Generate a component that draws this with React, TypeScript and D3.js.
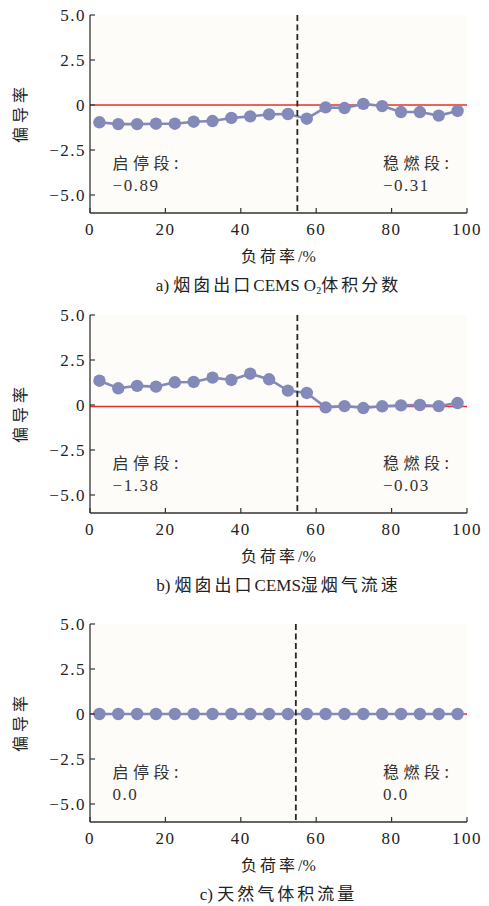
import React from "react";
import * as d3 from "d3";

const loadRate = [2.5, 7.5, 12.5, 17.5, 22.5, 27.5, 32.5, 37.5, 42.5, 47.5, 52.5, 57.5, 62.5, 67.5, 72.5, 77.5, 82.5, 87.5, 92.5, 97.5];
const seriesA = [-0.96, -1.06, -1.06, -1.04, -1.04, -0.93, -0.89, -0.72, -0.63, -0.52, -0.5, -0.76, -0.13, -0.17, 0.06, -0.06, -0.39, -0.39, -0.59, -0.33];
const seriesB = [1.35, 0.93, 1.06, 1.02, 1.26, 1.28, 1.52, 1.39, 1.74, 1.43, 0.8, 0.67, -0.13, -0.06, -0.17, -0.07, -0.02, 0.0, -0.06, 0.11];
const seriesC = [0, 0, 0, 0, 0, 0, 0, 0, 0, 0, 0, 0, 0, 0, 0, 0, 0, 0, 0, 0];
const xTicks = [0, 20, 40, 60, 80, 100];
const yTicks = [5, 2.5, 0, -2.5, -5];
const yTickLabels = ["5.0", "2.5", "0", "\u22122.5", "\u22125.0"];
const dividers = [55, 55, 54.6];
const refLines = [0, -0.08, 0];
const startLabels = ["\u22120.89", "\u22121.38", "0.0"];
const stableLabels = ["\u22120.31", "\u22120.03", "0.0"];
const captionPrefix = ["a) ", "b) ", "c) "];

const SERIF = "'Liberation Serif', 'DejaVu Serif', serif";
const CJK = "'Noto Sans CJK SC', 'Noto Sans', sans-serif";

const W = 489;
const H = 906;
const left = 90;
const right = 467;
const panelTops = [15, 315, 624];
const plotH = 198;

const dotColor = "#8389b9";

function Caption({ i, y }: { i: number; y: number }) {
  const cx = (left + right) / 2;
  const common = { fontSize: 17, fill: "#222" } as any;
  if (i === 0) {
    return (
      <text x={cx} y={y} textAnchor="middle" {...common}>
        <tspan fontFamily={SERIF}>{captionPrefix[0]}</tspan>
        <tspan fontFamily={CJK} letterSpacing={3}>烟囱出口</tspan>
        <tspan fontFamily={SERIF}>CEMS O</tspan>
        <tspan fontFamily={SERIF} fontSize={10} dy={3}>2</tspan>
        <tspan fontFamily={CJK} letterSpacing={3} dy={-3}>体积分数</tspan>
      </text>
    );
  }
  if (i === 1) {
    return (
      <text x={cx} y={y} textAnchor="middle" {...common}>
        <tspan fontFamily={SERIF}>{captionPrefix[1]}</tspan>
        <tspan fontFamily={CJK} letterSpacing={3}>烟囱出口</tspan>
        <tspan fontFamily={SERIF}>CEMS</tspan>
        <tspan fontFamily={CJK} letterSpacing={3}>湿烟气流速</tspan>
      </text>
    );
  }
  return (
    <text x={cx} y={y} textAnchor="middle" {...common}>
      <tspan fontFamily={SERIF}>{captionPrefix[2]}</tspan>
      <tspan fontFamily={CJK} letterSpacing={3}>天然气体积流量</tspan>
    </text>
  );
}

function Panel({ i, data }: { i: number; data: number[] }) {
  const top = panelTops[i];
  const bottom = top + plotH;
  const x = d3.scaleLinear().domain([0, 100]).range([left, right]);
  const y = d3.scaleLinear().domain([-6, 5]).range([bottom, top]);
  const line = d3
    .line<number>()
    .x((_, k) => x(loadRate[k]))
    .y((d) => y(d));
  const axisColor = "#333";
  return (
    <g>
      <rect x={left} y={top} width={right - left} height={plotH} fill="#fdfcf8" />
      <line x1={left} x2={right} y1={y(refLines[i])} y2={y(refLines[i])} stroke="#e8302f" strokeWidth={1.6} />
      <path d={line(data) || ""} fill="none" stroke={dotColor} strokeWidth={2.6} />
      {data.map((d, k) => (
        <circle key={k} cx={x(loadRate[k])} cy={y(d)} r={6.2} fill={dotColor} />
      ))}
      <line
        x1={x(dividers[i])}
        x2={x(dividers[i])}
        y1={top}
        y2={bottom}
        stroke="#2b2520"
        strokeWidth={1.8}
        strokeDasharray="6,3.5"
      />
      {/* axes */}
      <line x1={left} x2={left} y1={top} y2={bottom} stroke={axisColor} strokeWidth={1.3} />
      <line x1={left} x2={right} y1={bottom} y2={bottom} stroke={axisColor} strokeWidth={1.3} />
      {yTicks.map((t, k) => (
        <g key={k}>
          <line x1={left} x2={left + 5} y1={y(t)} y2={y(t)} stroke={axisColor} strokeWidth={1.2} />
          <text
            x={left - 4}
            y={y(t) + 6}
            textAnchor="end"
            fontFamily={SERIF}
            fontSize={17}
            letterSpacing={1.5}
            fill="#222"
          >
            {yTickLabels[k]}
          </text>
        </g>
      ))}
      {xTicks.map((t, k) => (
        <g key={k}>
          <line x1={x(t)} x2={x(t)} y1={bottom} y2={bottom - 5} stroke={axisColor} strokeWidth={1.2} />
          <text
            x={x(t)}
            y={bottom + 22}
            textAnchor="middle"
            fontFamily={SERIF}
            fontSize={17}
            letterSpacing={1.5}
            fill="#222"
          >
            {String(t)}
          </text>
        </g>
      ))}
      <text
        x={(left + right) / 2}
        y={bottom + 49}
        textAnchor="middle"
        fontSize={16}
        fill="#222"
      >
        <tspan fontFamily={CJK} letterSpacing={3}>负荷率</tspan>
        <tspan fontFamily={SERIF}>/%</tspan>
      </text>
      <text
        transform={`translate(26, ${(top + bottom) / 2 - 1}) rotate(-90)`}
        textAnchor="middle"
        fontFamily={CJK}
        fontSize={16}
        letterSpacing={4}
        fill="#222"
      >
        偏导率
      </text>
      {/* annotations */}
      <text x={x(6)} y={top + 154} fontFamily={CJK} fontSize={16} letterSpacing={4.5} fill="#333">
        启停段:
      </text>
      <text x={x(6)} y={top + 176} fontFamily={SERIF} fontSize={17} letterSpacing={1.5} fill="#333">
        {startLabels[i]}
      </text>
      <text x={x(77.7)} y={top + 154} fontFamily={CJK} fontSize={16} letterSpacing={4.5} fill="#333">
        稳燃段:
      </text>
      <text x={x(77.7)} y={top + 176} fontFamily={SERIF} fontSize={17} letterSpacing={1.5} fill="#333">
        {stableLabels[i]}
      </text>
      <Caption i={i} y={bottom + 78} />
    </g>
  );
}

export default function App() {
  return (
    <div style={{ position: "absolute", left: 0, top: 0 }}>
      <svg width={W} height={H} style={{ display: "block", background: "#fff" }}>
        <Panel i={0} data={seriesA} />
        <Panel i={1} data={seriesB} />
        <Panel i={2} data={seriesC} />
      </svg>
    </div>
  );
}
